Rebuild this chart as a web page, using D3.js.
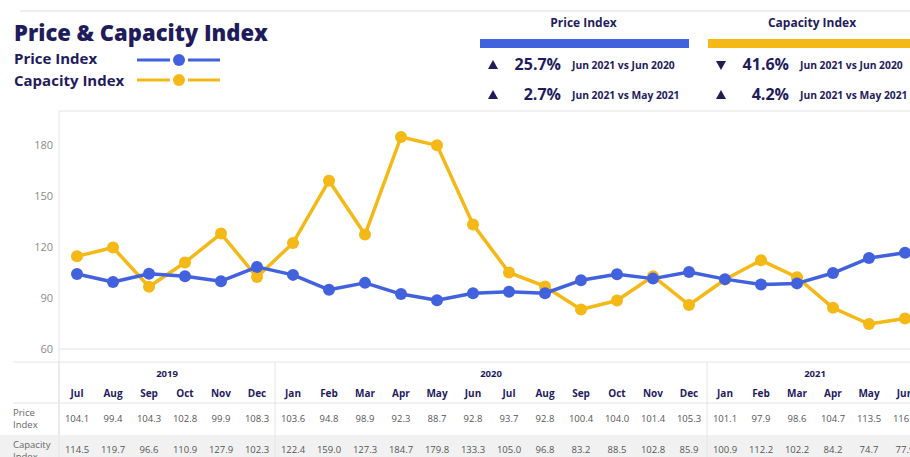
<!DOCTYPE html>
<html><head><meta charset="utf-8">
<script src="https://cdn.jsdelivr.net/npm/d3@7"></script>
<style>
body{margin:0;background:#fff;}
svg{display:block;font-family:"Open Sans",sans-serif;}
</style></head>
<body><svg id="c" width="910" height="457"></svg>
<script>
const months = ["Jul","Aug","Sep","Oct","Nov","Dec","Jan","Feb","Mar","Apr","May","Jun","Jul","Aug","Sep","Oct","Nov","Dec","Jan","Feb","Mar","Apr","May","Jun"];
const years = [{label:"2019",start:0,end:5},{label:"2020",start:6,end:17},{label:"2021",start:18,end:23}];
const priceIndex = [104.1,99.4,104.3,102.8,99.9,108.3,103.6,94.8,98.9,92.3,88.7,92.8,93.7,92.8,100.4,104.0,101.4,105.3,101.1,97.9,98.6,104.7,113.5,116.6];
const capacityIndex = [114.5,119.7,96.6,110.9,127.9,102.3,122.4,159.0,127.3,184.7,179.8,133.3,105.0,96.8,83.2,88.5,102.8,85.9,100.9,112.2,102.2,84.2,74.7,77.9];
const yTicks = [60,90,120,150,180];
const summaries = [
  {title:"Price Index", rows:[{dir:"up",pct:"25.7%",txt:"Jun 2021 vs Jun 2020"},{dir:"up",pct:"2.7%",txt:"Jun 2021 vs May 2021"}]},
  {title:"Capacity Index", rows:[{dir:"down",pct:"41.6%",txt:"Jun 2021 vs Jun 2020"},{dir:"up",pct:"4.2%",txt:"Jun 2021 vs May 2021"}]}
];

const NAVY="#1f1c5c", BLUE="#4262dd", GOLD="#f4b817", GRID="#e4e4e4";
const svg=d3.select("#c");

const x=d3.scaleLinear().domain([0,23]).range([77,905]);
const y=d3.scaleLinear().domain([60,200]).range([349,111]);

// top rule
svg.append("line").attr("x1",20).attr("x2",910).attr("y1",11).attr("y2",11).attr("stroke","#e8e8e8").attr("stroke-width",1.5);

// title & legend
svg.append("text").attr("x",14).attr("y",41).attr("fill",NAVY).attr("font-size",22).attr("font-weight",800).text("Price & Capacity Index");
[["Price Index",BLUE,64,60],["Capacity Index",GOLD,86,80]].forEach(([t,c,yy,ly])=>{
  svg.append("text").attr("x",14).attr("y",yy).attr("fill",NAVY).attr("font-size",15).attr("font-weight",700).text(t);
  svg.append("line").attr("x1",137).attr("x2",170).attr("y1",ly).attr("y2",ly).attr("stroke",c).attr("stroke-width",3);
  svg.append("line").attr("x1",188).attr("x2",220).attr("y1",ly).attr("y2",ly).attr("stroke",c).attr("stroke-width",3);
  svg.append("circle").attr("cx",179).attr("cy",ly).attr("r",6).attr("fill",c);
});

// summary panels
const tri=(cx,cy,dir)=> dir==="up" ? `M${cx-5},${cy+4}L${cx+5},${cy+4}L${cx},${cy-5}Z` : `M${cx-5},${cy-4}L${cx+5},${cy-4}L${cx},${cy+5}Z`;
summaries.forEach((s,i)=>{
  const x0 = i===0?480:708, w = i===0?209:210, c=i===0?BLUE:GOLD;
  svg.append("text").attr("x",x0+w/2-1).attr("y",27).attr("text-anchor","middle").attr("fill",NAVY).attr("font-size",12).attr("font-weight",700).text(s.title);
  svg.append("rect").attr("x",x0).attr("y",39).attr("width",w).attr("height",9).attr("fill",c);
  s.rows.forEach((r,j)=>{
    const yy = 70+j*30;
    svg.append("path").attr("d",tri(x0+13,yy-5,r.dir)).attr("fill",NAVY);
    svg.append("text").attr("x",x0+81).attr("y",yy).attr("text-anchor","end").attr("fill",NAVY).attr("font-size",16).attr("font-weight",700).text(r.pct);
    svg.append("text").attr("x",x0+92).attr("y",yy-1).attr("fill",NAVY).attr("font-size",10.3).attr("font-weight",700).text(r.txt);
  });
});

// plot frame
svg.append("line").attr("x1",59).attr("x2",910).attr("y1",111).attr("y2",111).attr("stroke",GRID);
svg.append("line").attr("x1",59).attr("x2",910).attr("y1",349).attr("y2",349).attr("stroke",GRID);
svg.append("line").attr("x1",59).attr("x2",59).attr("y1",111).attr("y2",457).attr("stroke",GRID);

// y axis
const yAxis=svg.append("g").attr("transform","translate(59,0)").call(d3.axisLeft(y).tickValues(yTicks).tickSize(0).tickPadding(6));
yAxis.select(".domain").remove();
yAxis.selectAll("text").attr("fill","#8a8a8a").attr("font-size",11).attr("font-family","Open Sans");

// lines
const line=d3.line().x((d,i)=>x(i)).y(d=>y(d));
[[capacityIndex,GOLD],[priceIndex,BLUE]].forEach(([data,c])=>{
  svg.append("path").datum(data).attr("d",line).attr("fill","none").attr("stroke",c).attr("stroke-width",3.5).attr("stroke-linejoin","round");
  svg.selectAll(null).data(data).enter().append("circle").attr("cx",(d,i)=>x(i)).attr("cy",d=>y(d)).attr("r",6).attr("fill",c);
});

// table
svg.append("rect").attr("x",0).attr("y",435).attr("width",910).attr("height",30).attr("fill","#f1f1f1");
svg.append("line").attr("x1",13).attr("x2",910).attr("y1",362).attr("y2",362).attr("stroke",GRID);
svg.append("line").attr("x1",13).attr("x2",910).attr("y1",403).attr("y2",403).attr("stroke",GRID);
svg.append("line").attr("x1",59).attr("x2",59).attr("y1",362).attr("y2",457).attr("stroke",GRID);
years.forEach((yr,k)=>{
  if(k>0) svg.append("line").attr("x1",x(yr.start)-18).attr("x2",x(yr.start)-18).attr("y1",362).attr("y2",457).attr("stroke",GRID);
  svg.append("text").attr("x",(x(yr.start)+x(yr.end))/2).attr("y",377).attr("text-anchor","middle").attr("fill",NAVY).attr("font-size",9.5).attr("font-weight",700).text(yr.label);
});
svg.selectAll(null).data(months).enter().append("text").attr("x",(d,i)=>x(i)).attr("y",397).attr("text-anchor","middle").attr("fill",NAVY).attr("font-size",10).attr("font-weight",700).text(d=>d);
svg.selectAll(null).data(priceIndex).enter().append("text").attr("x",(d,i)=>x(i)).attr("y",422).attr("text-anchor","middle").attr("fill","#555").attr("font-size",9.5).text(d=>d.toFixed(1));
svg.selectAll(null).data(capacityIndex).enter().append("text").attr("x",(d,i)=>x(i)).attr("y",453).attr("text-anchor","middle").attr("fill","#555").attr("font-size",9.5).text(d=>d.toFixed(1));
[["Price",416],["Index",428],["Capacity",448],["Index",460]].forEach(([t,yy])=>{
  svg.append("text").attr("x",13).attr("y",yy).attr("fill","#666").attr("font-size",9.5).text(t);
});
</script></body></html>
